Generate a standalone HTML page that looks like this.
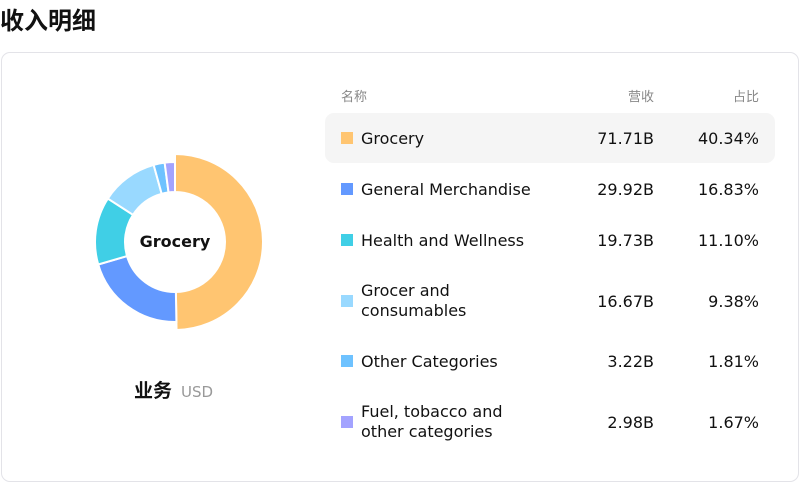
<!DOCTYPE html>
<html><head><meta charset="utf-8"><style>
body{margin:0;width:800px;height:482px;background:#fff;font-family:"DejaVu Sans","Liberation Sans","Noto Sans CJK SC",sans-serif;position:relative;overflow:hidden}
.t{position:absolute;white-space:nowrap}
</style></head><body>
<div class="t" style="left:0;top:1px;font-size:24px;font-weight:bold;color:#111;font-family:'Noto Sans CJK SC',sans-serif">收入明细</div>
<div style="position:absolute;left:1px;top:52px;width:796px;height:428px;border:1px solid #e3e3e8;border-radius:9px"></div>
<svg style="position:absolute;left:0;top:0" width="320" height="482" id="donut"></svg>
<div class="t" style="left:134px;top:376px;font-size:19px;font-weight:bold;color:#111;font-family:'Noto Sans CJK SC',sans-serif">业务<span style="font-weight:normal;font-size:15px;color:#999;font-family:'DejaVu Sans',sans-serif;margin-left:9px">USD</span></div>
<div class="t" style="left:341px;top:86px;font-size:13px;color:#888;font-family:'Noto Sans CJK SC',sans-serif">名称</div>
<div class="t" style="right:146px;top:86px;font-size:13px;color:#888;font-family:'Noto Sans CJK SC',sans-serif">营收</div>
<div class="t" style="right:41px;top:86px;font-size:13px;color:#888;font-family:'Noto Sans CJK SC',sans-serif">占比</div>
<div id="rows"></div>
<script>
const categories=["Grocery","General Merchandise","Health and Wellness","Grocer and consumables","Other Categories","Fuel, tobacco and other categories"];
const labels=["Grocery","General Merchandise","Health and Wellness","Grocer and<br>consumables","Other Categories","Fuel, tobacco and<br>other categories"];
const revenue=[71.71,29.92,19.73,16.67,3.22,2.98];
const share=[40.34,16.83,11.10,9.38,1.81,1.67];
const colors=["#ffc571","#6399ff","#40cfe6","#99d9ff","#6ec2ff","#a3a3ff"];
const rowY=[138,189,240,301,361,422];
const NS="http://www.w3.org/2000/svg";
const svg=document.getElementById('donut');
const cx=175,cy=242,r0=50,r1=80,rSel=88;
const total=revenue.reduce((a,b)=>a+b,0);
let a=0;
function pt(r,ang){return [cx+r*Math.sin(ang),cy-r*Math.cos(ang)];}
revenue.forEach((v,i)=>{
 const a0=a,a1=a+v/total*2*Math.PI;a=a1;
 const ro=i===0?rSel:r1;
 const large=(a1-a0)>Math.PI?1:0;
 const p1=pt(ro,a0),p2=pt(ro,a1),p3=pt(r0,a1),p4=pt(r0,a0);
 const p=document.createElementNS(NS,'path');
 p.setAttribute('d',`M${p1}A${ro},${ro} 0 ${large} 1 ${p2}L${p3}A${r0},${r0} 0 ${large} 0 ${p4}Z`);
 p.setAttribute('fill',colors[i]);p.setAttribute('stroke','#fff');p.setAttribute('stroke-width','2');
 
 
 svg.appendChild(p);
});
const ct=document.createElementNS(NS,'text');
ct.setAttribute('x',cx);ct.setAttribute('y',cy+5);ct.setAttribute('text-anchor','middle');
ct.setAttribute('font-size','16');ct.setAttribute('font-weight','bold');ct.setAttribute('fill','#111');
ct.textContent=categories[0];


svg.appendChild(ct);
const rows=document.getElementById('rows');
categories.forEach((c,i)=>{
 const y=rowY[i];
 if(i===0){const h=document.createElement('div');h.style.cssText='position:absolute;left:325px;top:113px;width:450px;height:50px;background:#f5f5f5;border-radius:9px';
 
 
 rows.appendChild(h);}
 const sw=document.createElement('div');sw.style.cssText=`position:absolute;left:341px;top:${y-6}px;width:12px;height:12px;background:${colors[i]}`;
 
 
 rows.appendChild(sw);
 const n=document.createElement('div');n.className='t';n.innerHTML=labels[i];
 const two=labels[i].includes('<br>');
 n.style.cssText=`left:361px;top:${y-(two?20:9)}px;font-size:16px;line-height:20px;color:#111`;
 
 
 rows.appendChild(n);
 const rv=document.createElement('div');rv.className='t';rv.textContent=revenue[i].toFixed(2)+'B';
 rv.style.cssText=`right:146px;top:${y-9}px;font-size:16px;line-height:20px;color:#111`;
 
 
 rows.appendChild(rv);
 const sh=document.createElement('div');sh.className='t';sh.textContent=share[i].toFixed(2)+'%';
 sh.style.cssText=`right:41px;top:${y-9}px;font-size:16px;line-height:20px;color:#111`;
 
 
 rows.appendChild(sh);
});
</script>
</body></html>
